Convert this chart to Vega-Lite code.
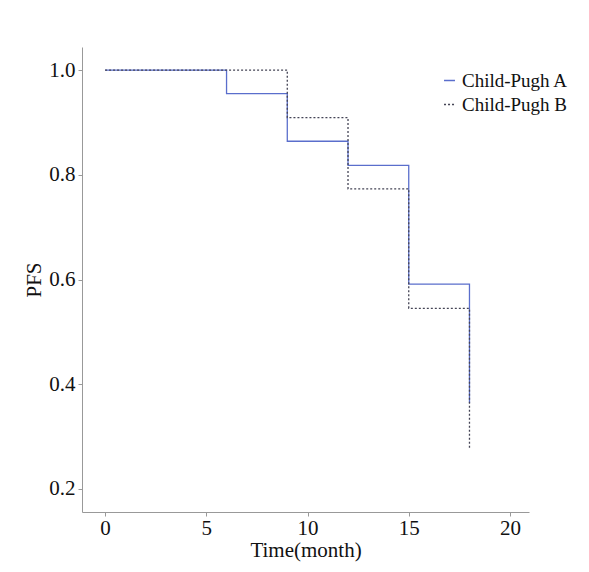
{
  "$schema": "https://vega.github.io/schema/vega-lite/v6.json",
  "width": 447,
  "height": 465,
  "autosize": {"type": "none"},
  "padding": {"left": 82, "top": 47, "right": 60, "bottom": 60},
  "background": "white",
  "config": {
    "view": {"stroke": null},
    "font": "Liberation Serif",
    "axis": {
      "grid": false,
      "domainColor": "#999999",
      "tickColor": "#999999",
      "tickSize": 4,
      "labelColor": "#111111",
      "titleColor": "#111111",
      "labelFont": "Liberation Serif",
      "titleFont": "Liberation Serif",
      "labelFontSize": 21,
      "titleFontSize": 21,
      "titleFontWeight": "normal"
    },
    "legend": {
      "labelFont": "Liberation Serif",
      "labelFontSize": 19,
      "labelColor": "#111111"
    }
  },
  "data": {
    "values": [
      {"time": 0, "pfs": 1.0, "group": "Child-Pugh A"},
      {"time": 6, "pfs": 0.955, "group": "Child-Pugh A"},
      {"time": 9, "pfs": 0.864, "group": "Child-Pugh A"},
      {"time": 12, "pfs": 0.818, "group": "Child-Pugh A"},
      {"time": 15, "pfs": 0.591, "group": "Child-Pugh A"},
      {"time": 18, "pfs": 0.364, "group": "Child-Pugh A"},
      {"time": 0, "pfs": 1.0, "group": "Child-Pugh B"},
      {"time": 9, "pfs": 0.909, "group": "Child-Pugh B"},
      {"time": 12, "pfs": 0.773, "group": "Child-Pugh B"},
      {"time": 15, "pfs": 0.545, "group": "Child-Pugh B"},
      {"time": 18, "pfs": 0.276, "group": "Child-Pugh B"}
    ]
  },
  "mark": {"type": "line", "interpolate": "step-after", "strokeWidth": 1.3, "clip": true},
  "encoding": {
    "x": {
      "field": "time",
      "type": "quantitative",
      "title": "Time(month)",
      "scale": {"domain": [-1.14, 20.94], "nice": false, "zero": false},
      "axis": {"values": [0, 5, 10, 15, 20], "labelPadding": 1, "titlePadding": 1}
    },
    "y": {
      "field": "pfs",
      "type": "quantitative",
      "title": "PFS",
      "scale": {"domain": [0.156, 1.044], "nice": false, "zero": false},
      "axis": {"values": [0.2, 0.4, 0.6, 0.8, 1.0], "format": ".1f", "labelPadding": 3, "titlePadding": 4}
    },
    "color": {
      "field": "group",
      "type": "nominal",
      "scale": {"domain": ["Child-Pugh A", "Child-Pugh B"], "range": ["#5a6ecc", "#444455"]},
      "legend": {"title": null, "orient": "none", "legendX": 358, "legendY": 24, "symbolType": "stroke", "symbolSize": 120, "symbolStrokeWidth": 1.3, "labelOffset": 3, "rowPadding": 4}
    },
    "strokeDash": {
      "field": "group",
      "type": "nominal",
      "scale": {"domain": ["Child-Pugh A", "Child-Pugh B"], "range": [[1, 0], [2, 2]]},
      "legend": {"title": null, "orient": "none", "legendX": 358, "legendY": 24, "symbolType": "stroke", "symbolSize": 120, "symbolStrokeWidth": 1.3, "labelOffset": 3, "rowPadding": 4}
    }
  }
}
